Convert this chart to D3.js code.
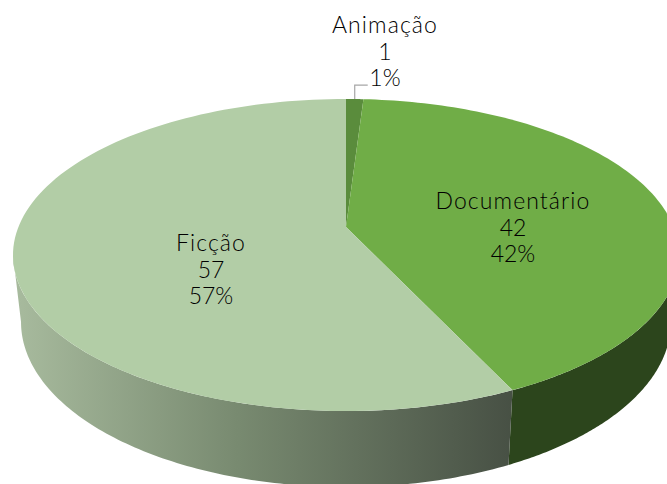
<!DOCTYPE html>
<html><head><meta charset="utf-8">
<script src="https://cdn.jsdelivr.net/npm/d3@7"></script>
<style>html,body{margin:0;padding:0;background:#fff;overflow:hidden}svg{display:block}</style>
</head><body><div id="c"></div>
<script>
const categories = ["Animação", "Documentário", "Ficção"];
const values = [1, 42, 57];
const topColors = ["#5a8c3c", "#70ad47", "#b2cda6"];
const wallColors = ["#2c451c", "#2c451c", "url(#wall)"];
const labelX = [385, 513, 211];
const labelY = [33, 209, 251];

const W = 667, H = 484, k = 0.1795;
const topRim = {cx: 346, cy: 227, A: 327.6, B: 151};
const lowRim = {cx: 346, cy: 292.4, A: 319.7, B: 159.7};
const project = (r, t) => {
  const u = Math.sin(t), v = Math.cos(t), d = 1 + k * v;
  return [r.cx + r.A * u / d, r.cy - r.B * v / d];
};
const pie = d3.pie().sort(null).value(d => d);
const arcs = pie(values);
const total = d3.sum(values);
const line = d3.line();
const samples = (a, b) => d3.range(0, 121).map(i => a + (b - a) * i / 120);

const svg = d3.select("#c").append("svg").attr("width", W).attr("height", H);
const grad = svg.append("defs").append("linearGradient").attr("id", "wall")
  .attr("gradientUnits", "userSpaceOnUse")
  .attr("x1", 13).attr("x2", 513).attr("y1", 0).attr("y2", 0);
[[0, "#a8bb9e"], [0.45, "#788a70"], [1, "#475044"]].forEach(s =>
  grad.append("stop").attr("offset", s[0]).attr("stop-color", s[1]));

// front wall: only the part of each slice between the two widest points of the rim
const sideA = Math.acos(-k), sideB = 2 * Math.PI - sideA;
arcs.forEach((d, i) => {
  const a = Math.max(d.startAngle, sideA), b = Math.min(d.endAngle, sideB);
  if (b <= a) return;
  const ts = samples(a, b);
  const pts = ts.map(t => project(topRim, t)).concat(ts.slice().reverse().map(t => project(lowRim, t)));
  svg.append("path").attr("d", line(pts) + "Z").attr("fill", wallColors[i]);
});

// top face
arcs.forEach((d, i) => {
  const rim = samples(d.startAngle, d.endAngle).map(t => project(topRim, t));
  svg.append("path").attr("d", line([[topRim.cx, topRim.cy], ...rim]) + "Z").attr("fill", topColors[i]);
});

// leader line of the smallest slice
const mid = (arcs[0].startAngle + arcs[0].endAngle) / 2;
const p0 = project(topRim, mid);
svg.append("path").attr("d", line([p0, [p0[0], p0[1] - 14], [p0[0] + 13, p0[1] - 14]]))
  .attr("fill", "none").attr("stroke", "#a6a6a6").attr("stroke-width", 1.2);

// labels
categories.forEach((c, i) => {
  const t = svg.append("text").attr("text-anchor", "middle")
    .attr("font-family", "Lato, 'Open Sans', sans-serif").attr("font-weight", 300)
    .attr("font-size", 23).attr("fill", "#000");
  [c, values[i], Math.round(values[i] / total * 100) + "%"].forEach((s, j) =>
    t.append("tspan").attr("x", labelX[i]).attr("y", labelY[i] + j * 26.5)
      .attr("letter-spacing", j === 0 ? 1.1 : 0).text(s));
});
</script></body></html>
